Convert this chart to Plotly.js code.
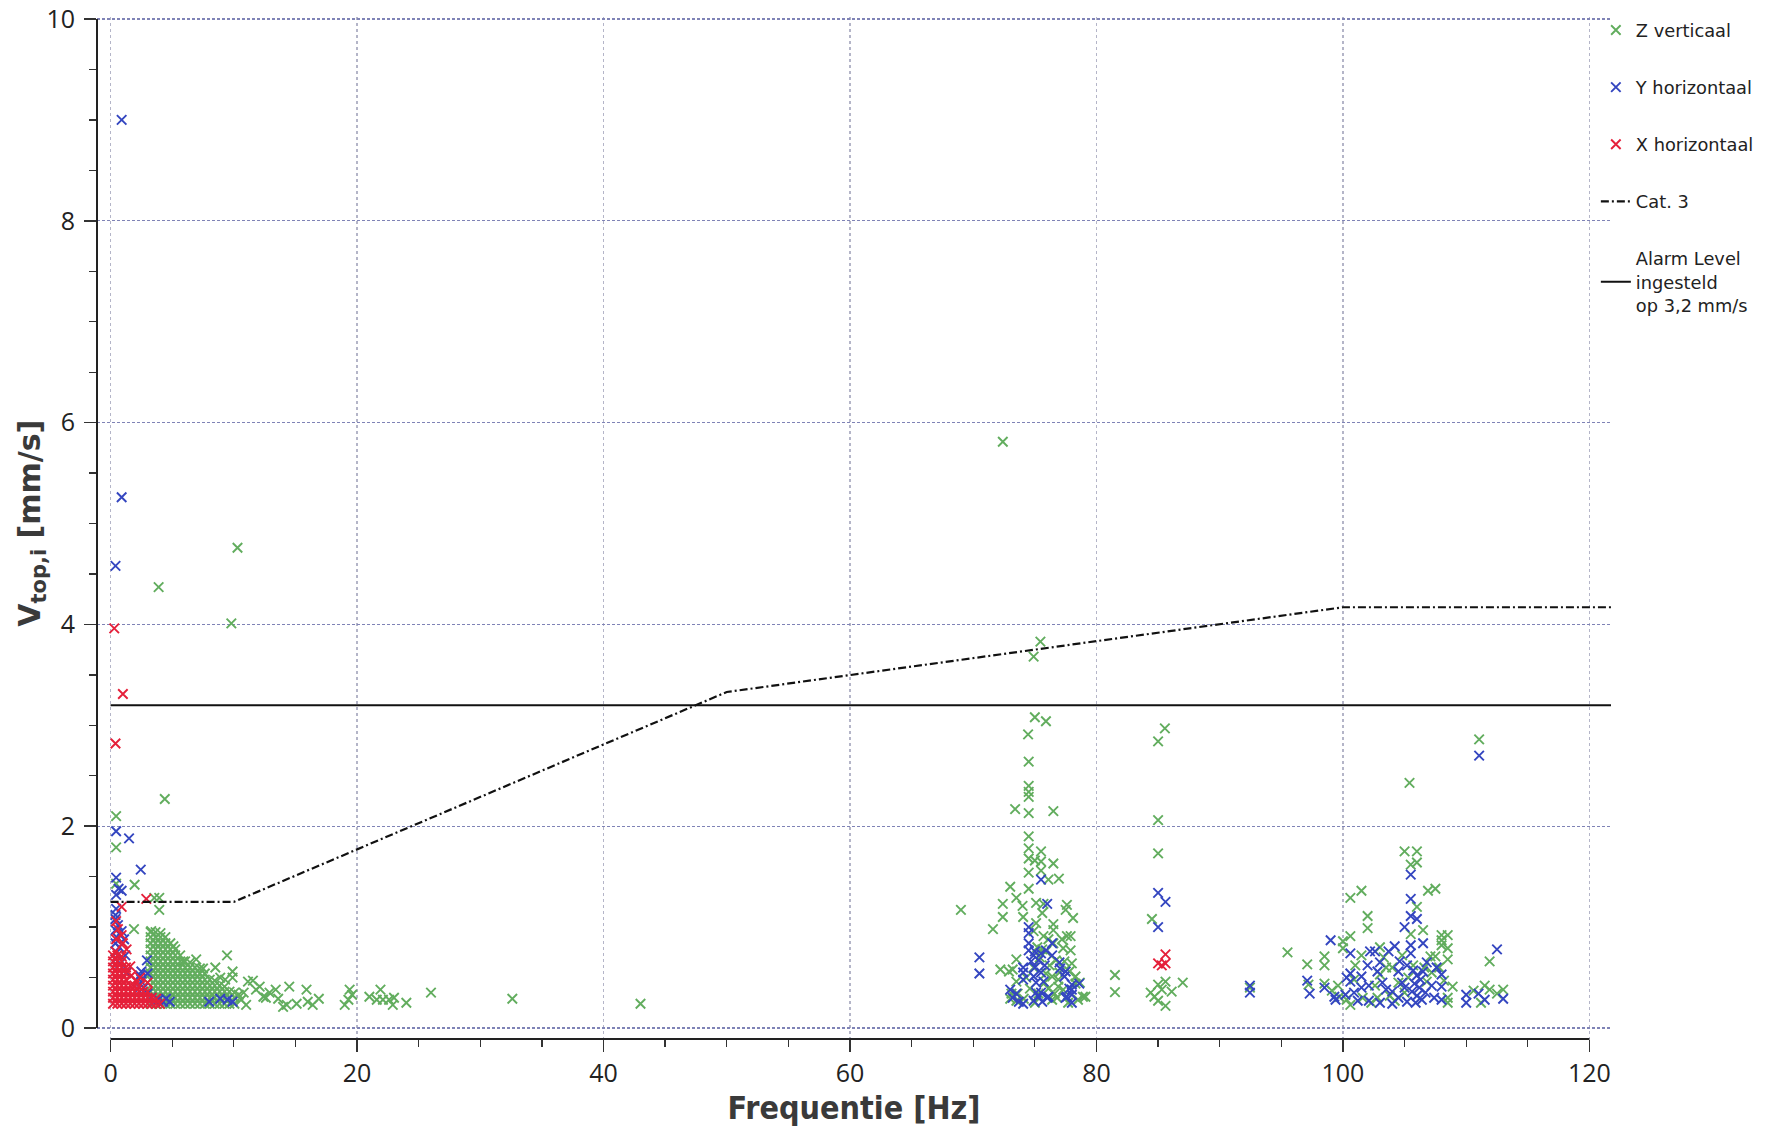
<!DOCTYPE html>
<html>
<head>
<meta charset="utf-8">
<script src="https://cdn.plot.ly/plotly-3.0.1.min.js"></script>
<style>html,body{margin:0;padding:0;background:#fff;}#chart{width:1766px;height:1127px;}</style>
</head>
<body>
<div id="chart"></div>
<script>
// ---------- DATA (frequency Hz, velocity mm/s) ----------
// Z verticaal (green)
const zHigh = [[72.4,5.81],[10.3,4.76],[3.9,4.37],[9.8,4.01],[75.45,3.83],[74.9,3.68],[4.4,2.27],[0.45,2.10],[0.45,1.79],[0.45,1.43],[111.05,2.86],[105.4,2.43]];
const zLowScatter = [[1.95,1.42],[3.55,1.29],[3.95,1.29],[3.95,1.17],[1.9,0.98],[3.3,0.96],[5.1,0.81],[5.9,0.66],[6.95,0.68],[7.5,0.59],[8.5,0.60],[9.45,0.72],[9.9,0.56],[8.9,0.50],[9.3,0.48],[9.9,0.50],[10.6,0.28],[11.0,0.23],[11.15,0.46],[11.55,0.47],[11.8,0.38],[12.1,0.41],[12.4,0.31],[12.6,0.30],[12.9,0.35],[13.4,0.38],[13.6,0.29],[14.0,0.21],[14.3,0.23],[14.5,0.41],[15.1,0.24],[15.9,0.38],[16.0,0.26],[16.4,0.23],[16.9,0.29],[19.0,0.23],[19.3,0.28],[19.4,0.38],[19.6,0.33],[21.0,0.31],[21.6,0.28],[21.9,0.38],[22.1,0.28],[22.6,0.28],[22.9,0.23],[23.0,0.30],[24.0,0.25],[26.0,0.35],[32.6,0.29],[43.0,0.24],[10.4,0.33],[10.8,0.35]];
const zLowMass = [
[3.25,0.24],[3.25,0.30],[3.25,0.36],[3.25,0.42],[3.25,0.48],[3.25,0.54],[3.25,0.60],[3.25,0.66],[3.25,0.72],[3.25,0.78],[3.25,0.84],[3.25,0.90],[3.25,0.95],
[3.65,0.24],[3.65,0.30],[3.65,0.36],[3.65,0.42],[3.65,0.48],[3.65,0.54],[3.65,0.60],[3.65,0.66],[3.65,0.72],[3.65,0.78],[3.65,0.84],[3.65,0.90],[3.65,0.95],
[4.05,0.24],[4.05,0.30],[4.05,0.36],[4.05,0.42],[4.05,0.48],[4.05,0.54],[4.05,0.60],[4.05,0.66],[4.05,0.72],[4.05,0.78],[4.05,0.84],[4.05,0.90],[4.05,0.94],
[4.45,0.24],[4.45,0.30],[4.45,0.36],[4.45,0.42],[4.45,0.48],[4.45,0.54],[4.45,0.60],[4.45,0.66],[4.45,0.72],[4.45,0.78],[4.45,0.84],[4.45,0.90],
[4.85,0.24],[4.85,0.30],[4.85,0.36],[4.85,0.42],[4.85,0.48],[4.85,0.54],[4.85,0.60],[4.85,0.66],[4.85,0.72],[4.85,0.78],[4.85,0.84],
[5.25,0.24],[5.25,0.30],[5.25,0.36],[5.25,0.42],[5.25,0.48],[5.25,0.54],[5.25,0.60],[5.25,0.66],[5.25,0.72],[5.25,0.78],
[5.65,0.24],[5.65,0.30],[5.65,0.36],[5.65,0.42],[5.65,0.48],[5.65,0.54],[5.65,0.60],[5.65,0.66],[5.65,0.72],
[6.05,0.24],[6.05,0.30],[6.05,0.36],[6.05,0.42],[6.05,0.48],[6.05,0.54],[6.05,0.60],[6.05,0.66],
[6.45,0.24],[6.45,0.30],[6.45,0.36],[6.45,0.42],[6.45,0.48],[6.45,0.54],[6.45,0.60],[6.45,0.65],
[6.85,0.24],[6.85,0.30],[6.85,0.36],[6.85,0.42],[6.85,0.48],[6.85,0.54],[6.85,0.60],
[7.25,0.24],[7.25,0.30],[7.25,0.36],[7.25,0.42],[7.25,0.48],[7.25,0.54],[7.25,0.59],
[7.65,0.24],[7.65,0.30],[7.65,0.36],[7.65,0.42],[7.65,0.48],[7.65,0.54],
[8.05,0.24],[8.05,0.30],[8.05,0.36],[8.05,0.42],[8.05,0.48],
[8.45,0.24],[8.45,0.30],[8.45,0.36],[8.45,0.42],[8.45,0.47],
[8.85,0.24],[8.85,0.30],[8.85,0.36],[8.85,0.42],
[9.25,0.24],[9.25,0.30],[9.25,0.36],[9.25,0.41],
[9.65,0.24],[9.65,0.30],[9.65,0.36],
[10.05,0.24],[10.05,0.30],[10.05,0.35]];
const z75 = [[74.45,2.91],[74.5,2.64],[74.5,2.40],[74.5,2.34],[74.5,2.29],[73.4,2.17],[74.5,2.13],[76.5,2.15],[75.0,3.08],[75.9,3.04],
[74.5,1.90],[74.5,1.78],[74.5,1.68],[75.0,1.66],[75.5,1.75],[75.5,1.65],[76.5,1.63],[74.5,1.54],[75.5,1.56],[76.1,1.47],[76.95,1.48],[74.5,1.38],[73.0,1.40],[73.5,1.29],[72.4,1.23],[74.0,1.21],[75.1,1.24],[75.7,1.23],[77.6,1.22],[77.5,1.17],[78.1,1.09],[69.0,1.17],[72.4,1.10],[74.05,1.10],[75.6,1.14],[71.6,0.98],[75.1,1.04],[76.5,1.03],[76.5,0.97],[74.9,0.96],[75.7,0.91],[76.1,0.88],[76.5,0.84],[77.2,0.88],[77.6,0.91],[77.9,0.91],[75.2,0.80],[75.6,0.78],[75.9,0.76],[77.3,0.79],[77.9,0.77],[76.7,0.67],[77.4,0.66],[78.0,0.64],[73.5,0.68],[72.2,0.58],[72.9,0.56],[73.2,0.58],[73.5,0.46],[75.9,0.54],[76.4,0.51],[76.9,0.48],[77.8,0.56],[78.3,0.51],[73.1,0.34],[73.6,0.34],[73.0,0.29],[73.5,0.27],[74.1,0.29],[74.6,0.39],[76.1,0.39],[76.6,0.34],[76.9,0.41],[78.9,0.31],[78.5,0.28],[76.4,0.28],[75.3,0.34],[78.3,0.44],[78.65,0.45],[79.1,0.31],[74.9,0.60],[75.4,0.70],[76.2,0.62],[77.0,0.55],[75.8,0.45],[77.3,0.38],[74.3,0.50],[76.8,0.30],[77.7,0.25],[75.0,0.25]];
const z85 = [[81.5,0.525],[81.5,0.355],[85.0,2.84],[85.55,2.97],[85.0,2.06],[85.0,1.73],[84.5,1.08],[84.4,0.35],[85.0,0.43],[85.6,0.46],[85.0,0.27],[85.6,0.22],[86.1,0.36],[87.0,0.45],[85.3,0.38],[84.7,0.31],[92.45,0.40]];
const z105 = [[95.5,0.75],[97.1,0.63],[97.2,0.43],[98.5,0.71],[98.5,0.62],[98.5,0.44],[99.1,0.37],[100.0,0.86],[100.0,0.79],[100.6,1.29],[101.5,1.36],[100.6,0.91],[101.5,0.72],[102.0,1.11],[102.0,0.99],[103.0,0.80],[103.0,0.53],[103.5,0.60],[104.8,0.72],[105.0,1.75],[106.0,1.75],[105.5,1.62],[106.0,1.64],[106.0,1.20],[106.5,0.97],[105.5,0.93],[106.9,1.36],[107.5,1.38],[108.0,0.92],[108.5,0.92],[108.0,0.87],[108.0,0.82],[108.5,0.79],[108.5,0.68],[107.1,0.71],[107.5,0.71],[108.9,0.41],[111.5,0.42],[111.9,0.38],[111.9,0.66],[113.0,0.38],[112.5,0.34],[100.3,0.28],[100.6,0.23],[101.6,0.30],[102.3,0.25],[103.8,0.32],[104.5,0.45],[104.2,0.27],[105.7,0.62],[106.6,0.60],[107.2,0.55],[108.2,0.47],[108.5,0.30],[108.5,0.25],[99.6,0.42],[100.9,0.48],[102.6,0.42],[103.3,0.70],[104.0,0.60],[105.3,0.50],[107.8,0.60],[106.8,0.46],[101.0,0.62],[102.8,0.30],[99.7,0.31],[105.0,0.35],[110.6,0.37],[111.2,0.25]];

// Y horizontaal (blue)
const yHigh = [[0.9,9.0],[0.9,5.26],[0.4,4.58],[0.45,1.95],[1.5,1.88],[2.45,1.57],[0.45,1.49],[0.65,1.38],[0.9,1.36],[0.45,1.32],[0.45,1.18]];
const yLow = [[0.4,1.12],[0.4,1.08],[0.6,1.02],[0.4,0.97],[0.9,0.96],[0.5,0.90],[1.1,0.88],[0.4,0.84],[0.7,0.80],[0.5,0.75],[1.2,0.72],[0.4,0.68],[0.8,0.64],[2.95,0.67],[2.5,0.56],[2.4,0.52],[3.0,0.54],[1.3,0.55],[2.5,0.46],[2.7,0.40],[3.0,0.34],[2.2,0.38],[3.3,0.30],[3.9,0.28],[4.25,0.26],[4.8,0.26],[4.5,0.29],[3.6,0.27],[8.0,0.26],[8.9,0.29],[9.5,0.28],[9.9,0.26]];
const y75 = [[70.5,0.70],[70.5,0.54],[75.5,1.47],[76.0,1.23],[74.5,1.00],[74.5,0.94],[74.5,0.84],[74.5,0.77],[74.9,0.72],[75.3,0.67],[75.8,0.62],[76.4,0.72],[74.7,0.66],[77.05,0.59],[74.05,0.48],[74.05,0.60],[74.05,0.55],[74.9,0.51],[75.7,0.46],[77.4,0.51],[77.0,0.65],[77.5,0.56],[77.8,0.39],[78.6,0.44],[78.0,0.43],[78.0,0.38],[73.2,0.30],[73.0,0.38],[73.5,0.34],[73.7,0.26],[74.9,0.27],[75.3,0.31],[75.6,0.26],[76.1,0.31],[77.6,0.31],[78.0,0.25],[77.5,0.30],[78.0,0.33],[74.05,0.24],[75.1,0.45],[75.1,0.35],[75.5,0.35],[76.0,0.30],[76.4,0.84],[75.0,0.76],[75.5,0.74],[75.9,0.77],[75.0,0.60],[75.5,0.55]];
const y85 = [[85.0,1.34],[85.6,1.25],[85.0,1.00],[92.45,0.42],[92.45,0.35]];
const y105 = [[97.1,0.47],[97.3,0.34],[98.5,0.40],[99.0,0.87],[99.3,0.31],[99.4,0.28],[100.2,0.33],[100.6,0.74],[100.6,0.54],[100.3,0.50],[100.6,0.46],[101.5,0.51],[101.5,0.40],[102.2,0.76],[102.6,0.76],[102.0,0.62],[102.1,0.42],[102.1,0.27],[103.0,0.65],[103.2,0.45],[103.5,0.38],[103.0,0.25],[103.7,0.76],[104.2,0.81],[104.5,0.56],[104.8,0.45],[104.5,0.30],[105.0,1.00],[105.5,1.52],[105.5,1.28],[105.5,1.11],[106.0,1.08],[106.5,0.84],[105.5,0.82],[105.5,0.74],[105.2,0.62],[105.7,0.57],[106.0,0.52],[106.3,0.48],[105.8,0.44],[106.2,0.40],[105.6,0.36],[106.0,0.32],[106.4,0.28],[105.2,0.26],[105.9,0.25],[106.7,0.35],[107.2,0.42],[107.4,0.30],[108.0,0.53],[108.0,0.41],[108.0,0.28],[107.6,0.60],[104.0,0.36],[104.0,0.24],[101.2,0.27],[100.9,0.35],[102.8,0.56],[110.0,0.33],[110.0,0.25],[111.0,0.34],[111.5,0.28],[112.5,0.78],[113.0,0.29],[111.05,2.70],[106.5,0.56],[105.0,0.40],[106.8,0.65],[104.6,0.66]];

// X horizontaal (red)
const xHigh = [[0.3,3.96],[1.0,3.31],[0.4,2.82],[2.9,1.28],[0.9,1.20]];
const xLowScatter = [[0.45,1.06],[0.6,0.98],[0.9,0.92],[0.45,0.88],[1.0,0.84],[1.3,0.78],[0.4,0.76],[1.6,0.61],[2.1,0.46],[3.0,0.45],[1.7,0.52],[2.4,0.50]];
const xLowMass = [
[0.2,0.24],[0.2,0.30],[0.2,0.36],[0.2,0.42],[0.2,0.48],[0.2,0.54],[0.2,0.60],[0.2,0.66],[0.2,0.72],
[0.55,0.24],[0.55,0.30],[0.55,0.36],[0.55,0.42],[0.55,0.48],[0.55,0.54],[0.55,0.60],[0.55,0.66],[0.55,0.72],
[0.9,0.24],[0.9,0.30],[0.9,0.36],[0.9,0.42],[0.9,0.48],[0.9,0.54],[0.9,0.60],[0.9,0.66],[0.9,0.71],
[1.25,0.24],[1.25,0.30],[1.25,0.36],[1.25,0.42],[1.25,0.48],[1.25,0.54],[1.25,0.60],
[1.6,0.24],[1.6,0.30],[1.6,0.36],[1.6,0.42],
[1.95,0.24],[1.95,0.30],[1.95,0.36],[1.95,0.42],
[2.3,0.24],[2.3,0.30],[2.3,0.36],[2.3,0.41],
[2.65,0.24],[2.65,0.30],[2.65,0.36],
[3.0,0.24],[3.0,0.30],[3.0,0.36],
[3.35,0.24],[3.35,0.30],[3.7,0.24],[3.7,0.29],[4.0,0.24]];
const x85 = [[85.6,0.73],[85.0,0.64],[85.6,0.64],[85.3,0.62]];

// Reference lines
const cat3Freq = [0, 10, 50, 100, 121.75];
const cat3Vel  = [1.25, 1.25, 3.33, 4.17, 4.17];
const alarmFreq = [0, 121.75];
const alarmVel  = [3.2, 3.2];

const seriesNames = ['Z verticaal', 'Y horizontaal', 'X horizontaal', 'Cat. 3', 'Alarm Level<br>ingesteld<br>op 3,2 mm/s'];
const xTitle = '<b>Frequentie [Hz]</b>';
const yTitle = '<b>V<sub>top,i</sub> [mm/s]</b>';

// ---------- BUILD ----------
function pts(...groups){ const a=[].concat(...groups); return {x:a.map(p=>p[0]), y:a.map(p=>p[1])}; }
const Z = pts(zHigh, zLowScatter, zLowMass, z75, z85, z105);
const Y = pts(yHigh, yLow, y75, y85, y105);
const X = pts(xHigh, xLowScatter, xLowMass, x85);

function mk(color){ return {symbol:'x-thin', size:9.5, color:color, line:{width:1.9, color:color}}; }

const traces = [
  {type:'scatter', mode:'markers', name:seriesNames[0], legendgroup:'g1', x:Z.x, y:Z.y, marker:mk('#62ad5e')},
  {type:'scatter', mode:'markers', name:seriesNames[1], legendgroup:'g2', x:Y.x, y:Y.y, marker:mk('#3446c0')},
  {type:'scatter', mode:'markers', name:seriesNames[2], legendgroup:'g3', x:X.x, y:X.y, marker:mk('#e5203a')},
  {type:'scatter', mode:'lines', name:seriesNames[3], legendgroup:'g4', x:cat3Freq, y:cat3Vel, line:{color:'#111', width:2.2, dash:'8px,3px,2px,3px'}},
  {type:'scatter', mode:'lines', name:seriesNames[4], legendgroup:'g5', x:alarmFreq, y:alarmVel, line:{color:'#111', width:2}}
];

const layout = {
  width:1766, height:1127,
  paper_bgcolor:'#fff', plot_bgcolor:'#fff',
  margin:{l:97, r:155, t:17, b:88, autoexpand:false},
  showlegend:true,
  legend:{x:0.99, y:1.005, xanchor:'left', yanchor:'top', traceorder:'grouped', tracegroupgap:31,
          font:{family:'DejaVu Sans, Verdana, sans-serif', size:17.8, color:'#222'}, bgcolor:'rgba(0,0,0,0)', itemwidth:30},
  xaxis:{range:[-1.1, 121.75], tick0:0, dtick:20, ticks:'outside', ticklen:12, tickwidth:1.5, tickcolor:'#333',
         minor:{dtick:5, ticks:'outside', ticklen:7, tickwidth:1.3, tickcolor:'#333', showgrid:false},
         showgrid:true, gridcolor:'#b4b5c8', griddash:'dot', gridwidth:1.2, zeroline:false, showline:false,
         tickfont:{family:'Open Sans, sans-serif', size:25, color:'#222'},
         title:{text:xTitle, font:{family:'DejaVu Sans Condensed, DejaVu Sans, sans-serif', size:32, color:'#3a3a3a'}, standoff:5},
         automargin:false},
  yaxis:{range:[-0.109, 10.02], tick0:0, dtick:2, ticks:'outside', ticklen:12, tickwidth:1.5, tickcolor:'#333',
         minor:{dtick:0.5, ticks:'outside', ticklen:7, tickwidth:1.3, tickcolor:'#333', showgrid:false},
         showgrid:true, gridcolor:'#7f83b6', griddash:'3px,2px', gridwidth:1.2, zeroline:false, showline:false,
         tickfont:{family:'Open Sans, sans-serif', size:25, color:'#222'}, ticklabelstandoff:4,
         automargin:false},
  annotations:[
    {text:yTitle, xref:'paper', yref:'paper', x:-0.043, y:0.505, xanchor:'center', yanchor:'middle', textangle:-90, showarrow:false,
     font:{family:'DejaVu Sans, Verdana, sans-serif', size:30, color:'#3a3a3a'}}
  ],
  shapes:[
    {type:'line', xref:'paper', yref:'y', x0:0, x1:0, y0:0, y1:10, line:{color:'#222', width:2}},
    {type:'line', xref:'x', yref:'paper', x0:0, x1:120, y0:0, y1:0, line:{color:'#222', width:2}}
  ]
};

Plotly.newPlot('chart', traces, layout, {displayModeBar:false, staticPlot:true});
</script>
</body>
</html>
